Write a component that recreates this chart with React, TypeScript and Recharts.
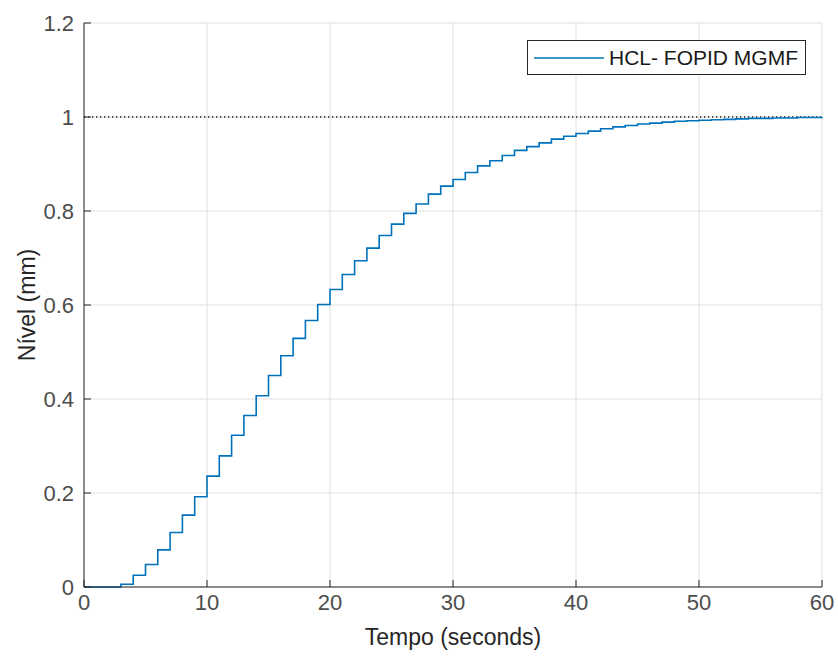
import {
  LineChart,
  Line,
  XAxis,
  YAxis,
  CartesianGrid,
  ReferenceLine,
  Legend,
  Label
} from 'recharts'

// Step response sampled every second (zero-order hold)
const times = [
  0, 1, 2, 3, 4, 5, 6, 7, 8, 9,
  10, 11, 12, 13, 14, 15, 16, 17, 18, 19,
  20, 21, 22, 23, 24, 25, 26, 27, 28, 29,
  30, 31, 32, 33, 34, 35, 36, 37, 38, 39,
  40, 41, 42, 43, 44, 45, 46, 47, 48, 49,
  50, 51, 52, 53, 54, 55, 56, 57, 58, 59,
  60
]

const levels = [
  0, 0, 0, 0.006, 0.025, 0.048, 0.079, 0.116, 0.153, 0.192,
  0.236, 0.279, 0.323, 0.365, 0.407, 0.45, 0.492, 0.529, 0.567, 0.601,
  0.633, 0.665, 0.694, 0.721, 0.748, 0.772, 0.795, 0.815, 0.836, 0.853,
  0.867, 0.882, 0.896, 0.907, 0.918, 0.929, 0.937, 0.945, 0.953, 0.959,
  0.965, 0.97, 0.975, 0.979, 0.982, 0.985, 0.987, 0.989, 0.991, 0.992,
  0.993, 0.994, 0.995, 0.996, 0.997, 0.997, 0.998, 0.998, 0.999, 0.999,
  1.0
]

const xTicks = [0, 10, 20, 30, 40, 50, 60]
const yTicks = [0, 0.2, 0.4, 0.6, 0.8, 1, 1.2]
const setpoint = 1
const seriesName = 'HCL- FOPID MGMF'

const chartData = times.map((t, i) => ({ t, level: levels[i] }))

const FONT = '"Liberation Sans", Arial, Helvetica, sans-serif'
const AXIS_COLOR = '#262626'
const TICK_COLOR = '#4d4d4d'
const LINE_COLOR = '#0072bd'

const LegendBox = () => (
  <div
    style={{
      display: 'flex',
      alignItems: 'center',
      boxSizing: 'border-box',
      width: 279,
      height: 35,
      border: `1px solid ${AXIS_COLOR}`,
      background: '#fff',
      fontFamily: FONT,
      fontSize: 21,
      color: '#1a1a1a'
    }}
  >
    <svg width={76} height={20} style={{ marginLeft: 5 }}>
      <line x1={1} y1={10} x2={71} y2={10} stroke={LINE_COLOR} strokeWidth={1.5} />
    </svg>
    <span style={{ whiteSpace: 'nowrap' }}>{seriesName}</span>
  </div>
)

export default function App() {
  return (
    <div style={{ position: 'absolute', left: 0, top: 0, width: 838, height: 656, background: '#fff' }}>
      <LineChart
        width={838}
        height={656}
        data={chartData}
        margin={{ top: 23, right: 16, bottom: 0, left: 0 }}
        style={{ fontFamily: FONT }}
      >
        <CartesianGrid stroke="#dfdfdf" strokeWidth={1} />
        <XAxis
          dataKey="t"
          type="number"
          domain={[0, 60]}
          ticks={xTicks}
          height={69}
          tickSize={-7}
          tickMargin={14}
          axisLine={{ stroke: AXIS_COLOR }}
          tickLine={{ stroke: AXIS_COLOR }}
          tick={{ fill: TICK_COLOR, fontSize: 22 }}
        >
          <Label
            value="Tempo (seconds)"
            position="insideBottom"
            offset={11}
            style={{ fill: AXIS_COLOR, fontSize: 23, fontFamily: FONT }}
          />
        </XAxis>
        <XAxis
          xAxisId="top"
          dataKey="t"
          type="number"
          orientation="top"
          domain={[0, 60]}
          ticks={xTicks}
          height={0}
          tickSize={-7}
          axisLine={{ stroke: AXIS_COLOR }}
          tickLine={{ stroke: AXIS_COLOR }}
          tick={false}
        />
        <YAxis
          type="number"
          domain={[0, 1.2]}
          ticks={yTicks}
          width={84}
          tickSize={-7}
          tickMargin={17}
          axisLine={{ stroke: AXIS_COLOR }}
          tickLine={{ stroke: AXIS_COLOR }}
          tick={{ fill: TICK_COLOR, fontSize: 22 }}
        >
          <Label
            content={() => (
              <text
                x={27}
                y={305}
                transform="rotate(-90 27 305)"
                textAnchor="middle"
                dominantBaseline="central"
                fill={AXIS_COLOR}
                fontSize={23}
                fontFamily={FONT}
              >
                Nível (mm)
              </text>
            )}
          />
        </YAxis>
        <YAxis
          yAxisId="right"
          type="number"
          orientation="right"
          domain={[0, 1.2]}
          ticks={yTicks}
          width={0}
          tickSize={-7}
          axisLine={{ stroke: AXIS_COLOR }}
          tickLine={{ stroke: AXIS_COLOR }}
          tick={false}
        />
        <ReferenceLine
          y={setpoint}
          stroke="#1a1a1a"
          strokeWidth={1.3}
          strokeDasharray="1.3 2.7"
        />
        <Line
          type="stepAfter"
          dataKey="level"
          name={seriesName}
          stroke={LINE_COLOR}
          strokeWidth={1.6}
          dot={false}
          isAnimationActive={false}
        />
        <Legend
          layout="horizontal"
          verticalAlign="middle"
          align="center"
          content={() => <LegendBox />}
          wrapperStyle={{ position: 'absolute', left: 527, top: 40, width: 'auto' }}
        />
      </LineChart>
    </div>
  )
}
